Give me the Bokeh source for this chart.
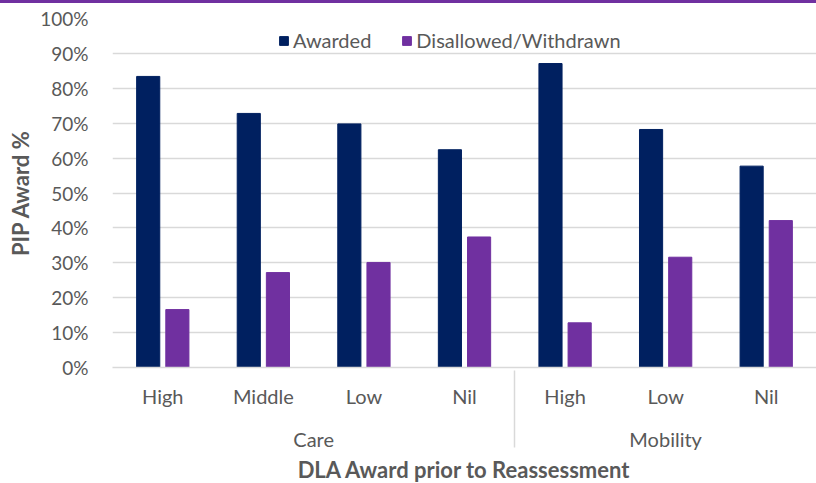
from bokeh.plotting import figure
from bokeh.models import (ColumnDataSource, FactorRange, Range1d, FixedTicker,
                          NumeralTickFormatter, Legend, LegendItem, Div)
from bokeh.layouts import column
from bokeh.transform import dodge
from bokeh.embed import file_html
from bokeh.resources import INLINE

groups = ["Care", "Care", "Care", "Care", "Mobility", "Mobility", "Mobility"]
levels = ["High", "Middle", "Low", "Nil", "High", "Low", "Nil"]
awarded = [0.834, 0.728, 0.698, 0.624, 0.871, 0.682, 0.577]
disallowed = [0.166, 0.272, 0.301, 0.374, 0.128, 0.316, 0.421]
y_ticks = [0.0, 0.1, 0.2, 0.3, 0.4, 0.5, 0.6, 0.7, 0.8, 0.9, 1.0]

factors = list(zip(groups, levels))
src = ColumnDataSource(dict(x=factors, awarded=awarded, disallowed=disallowed))

FONT = "Lato"
GREY = "#595959"
NAVY = "#002060"
PURPLE = "#7030A0"
LINE = "#D9D9D9"

p = figure(frame_width=704, frame_height=349, output_backend="svg", toolbar_location=None,
           x_range=FactorRange(*factors, group_padding=0, factor_padding=0, range_padding=0),
           y_range=Range1d(0, 1),
           min_border_left=112, min_border_right=0, min_border_top=15, min_border_bottom=0)
p.outline_line_color = None

r1 = p.vbar(x=dodge("x", -0.145, range=p.x_range), top="awarded", width=0.23, source=src,
            fill_color=NAVY, line_color=NAVY)
r2 = p.vbar(x=dodge("x", 0.145, range=p.x_range), top="disallowed", width=0.23, source=src,
            fill_color=PURPLE, line_color=PURPLE)

# y axis
p.yaxis.ticker = FixedTicker(ticks=y_ticks)
p.yaxis.formatter = NumeralTickFormatter(format="0%")
p.yaxis.axis_line_color = None
p.yaxis.major_tick_line_color = None
p.yaxis.minor_tick_line_color = None
p.yaxis.major_tick_out = 0
p.yaxis.major_tick_in = 0
p.yaxis.major_label_standoff = 24
p.yaxis.major_label_text_font = FONT
p.yaxis.major_label_text_font_size = "19px"
p.yaxis.major_label_text_color = GREY
p.yaxis.axis_label = "PIP Award %"
p.yaxis.axis_label_text_font = FONT
p.yaxis.axis_label_text_font_style = "bold"
p.yaxis.axis_label_text_font_size = "22px"
p.yaxis.axis_label_text_color = GREY
p.yaxis.axis_label_standoff = 3
p.ygrid.grid_line_color = LINE
p.ygrid.grid_line_width = 1.5
p.xgrid.grid_line_color = None

# x axis
ax = p.xaxis[0]
ax.axis_line_color = LINE
ax.axis_line_width = 1.5
ax.major_tick_line_color = None
ax.minor_tick_line_color = None
ax.major_tick_out = 0
ax.major_tick_in = 0
ax.major_label_text_font = FONT
ax.major_label_text_font_size = "20px"
ax.major_label_text_color = GREY
ax.major_label_standoff = 16
ax.group_text_font = FONT
ax.group_text_font_size = "20px"
ax.group_text_font_style = "normal"
ax.group_text_color = GREY
ax.separator_line_color = LINE
ax.separator_line_width = 1.5
ax.axis_label = "DLA Award prior to Reassessment"
ax.axis_label_text_font = FONT
ax.axis_label_text_font_style = "bold"
ax.axis_label_text_font_size = "22px"
ax.axis_label_text_color = GREY
ax.axis_label_standoff = 2

# legend
legend = Legend(items=[LegendItem(label="Awarded", renderers=[r1]),
                       LegendItem(label="Disallowed/Withdrawn", renderers=[r2])],
                orientation="horizontal", location=(166, 315),
                border_line_color=None, background_fill_alpha=0,
                label_text_font=FONT, label_text_font_size="20px", label_text_color=GREY,
                glyph_width=11, glyph_height=11, spacing=30, padding=0, margin=0,
                label_standoff=4)
p.add_layout(legend, "center")

rule = Div(text="", width=816, height=3, margin=(0, 0, 0, 0),
           styles={"background-color": PURPLE})
layout = column(rule, p, spacing=0)

open("out.html", "w").write(file_html(layout, INLINE))
